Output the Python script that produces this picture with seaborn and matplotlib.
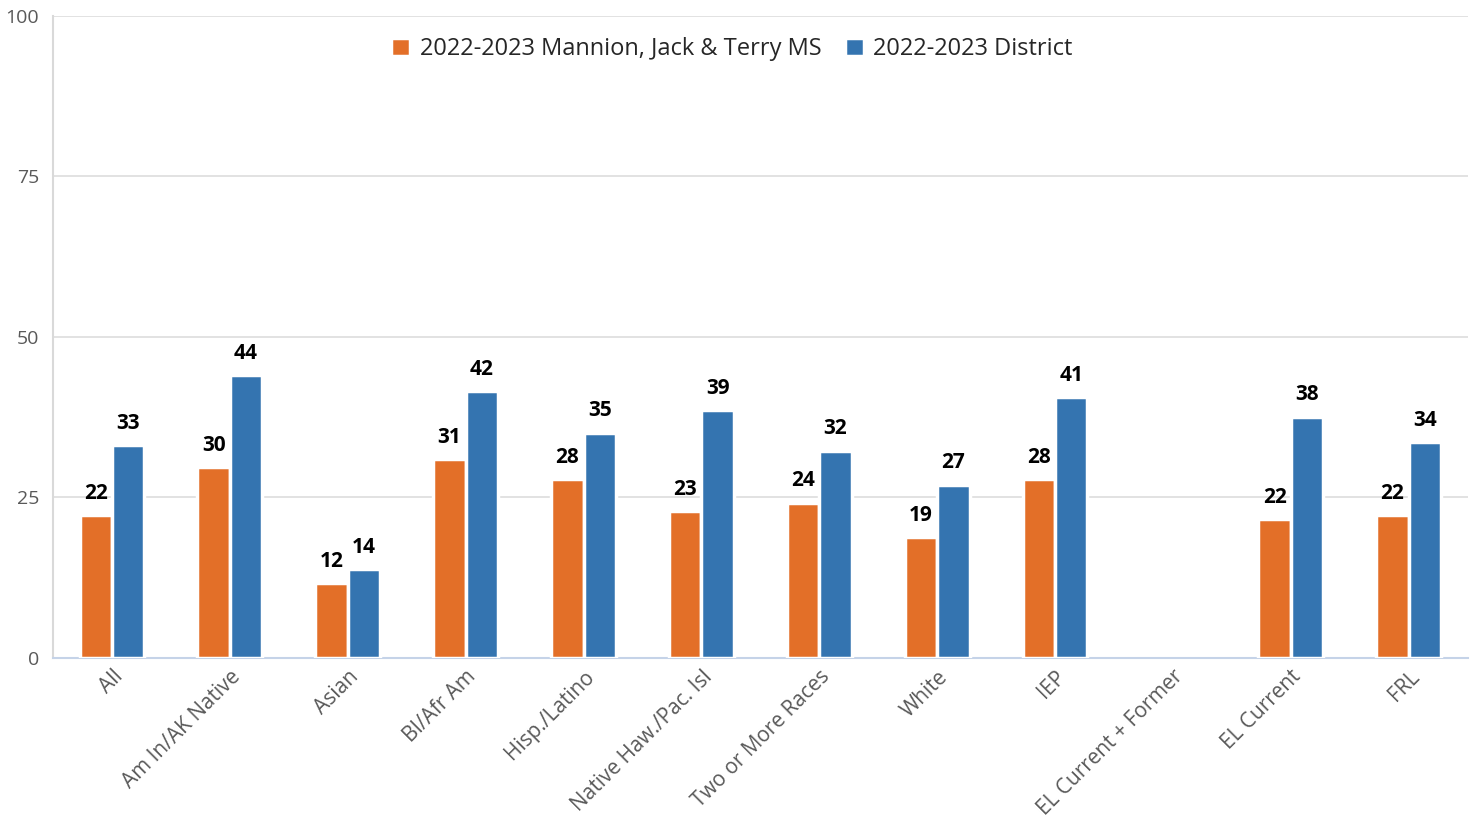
import numpy as np
import pandas as pd
import seaborn as sns
from matplotlib import pyplot as plt

groups = ['All', 'Am In/AK Native', 'Asian', 'Bl/Afr Am', 'Hisp./Latino',
          'Native Haw./Pac. Isl', 'Two or More Races', 'White', 'IEP',
          'EL Current + Former', 'EL Current', 'FRL']
school = [22.3, 29.8, 11.7, 31.0, 27.9, 22.9, 24.2, 18.9, 27.9, np.nan, 21.7, 22.3]
district = [33.2, 44.1, 13.9, 41.6, 35.1, 38.6, 32.3, 27.0, 40.7, np.nan, 37.6, 33.6]
series = ['2022-2023 Mannion, Jack & Terry MS', '2022-2023 District']
colors = ['#e36f28', '#3474b0']

df = pd.DataFrame({'group': groups * 2,
                   'series': [series[0]] * len(groups) + [series[1]] * len(groups),
                   'value': school + district})

sns.set_style('white')
plt.rcParams['font.family'] = ['Open Sans', 'DejaVu Sans']

fig = plt.figure(figsize=(14.75, 8.35), dpi=100)
ax = fig.add_axes([0.036, 0.212, 0.959, 0.769])

sns.barplot(data=df, x='group', y='value', hue='series', palette=colors, saturation=1,
            width=0.55, edgecolor='white', linewidth=2.5, ax=ax, zorder=3)

# value labels
for cont in ax.containers:
    labels = ['' if np.isnan(v) else f'{v:.0f}' for v in cont.datavalues]
    ax.bar_label(cont, labels=labels, padding=8, fontsize=15, fontweight='bold', color='black')

ax.set_ylim(0, 100)
ax.set_xlim(-0.5, len(groups) - 0.5)
ax.set_yticks([0, 25, 50, 75, 100])
ax.yaxis.grid(True, color='#dddddd', linewidth=1.2, zorder=0)
ax.set_axisbelow(True)
ax.set_xlabel('')
ax.set_ylabel('')

for s in ['top', 'right']:
    ax.spines[s].set_visible(False)
ax.spines['left'].set_color('#d9d9d9')
ax.spines['left'].set_linewidth(1.5)
ax.spines['bottom'].set_color('#c5d3e8')
ax.spines['bottom'].set_linewidth(1.5)

ax.tick_params(axis='y', labelsize=14, labelcolor='#595959', length=0, pad=10)
ax.tick_params(axis='x', labelsize=15, labelcolor='#595959', length=0, pad=6)
plt.setp(ax.get_xticklabels(), rotation=45, ha='right', rotation_mode='anchor')

ax.legend(loc='upper center', bbox_to_anchor=(0.48, 1.0), ncol=2, frameon=False,
          fontsize=17, handlelength=0.8, handleheight=0.8, handletextpad=0.4,
          columnspacing=1.0, labelcolor='#262626')

fig.savefig('out.png', dpi=100)
